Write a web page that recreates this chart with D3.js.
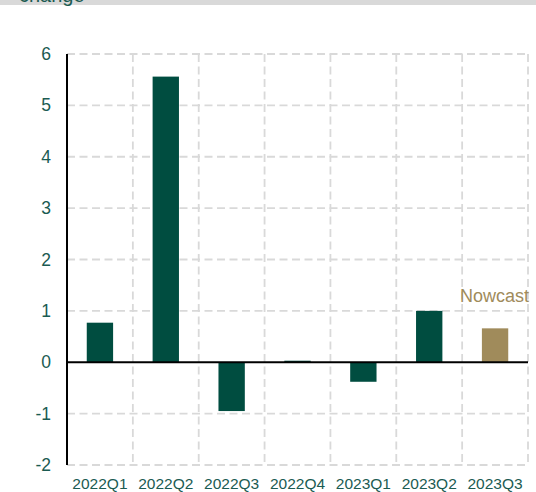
<!DOCTYPE html>
<html>
<head>
<meta charset="utf-8">
<script src="https://cdn.jsdelivr.net/npm/d3@7/dist/d3.min.js"></script>
<style>
  html, body { margin: 0; padding: 0; background: #ffffff; }
  svg { display: block; font-family: Arial, "Liberation Sans", sans-serif; }
</style>
</head>
<body>
<svg id="chart" width="536" height="492"></svg>
<script>
// Quarterly GDP change, with the latest quarter as a nowcast
const quarters = ["2022Q1", "2022Q2", "2022Q3", "2022Q4", "2023Q1", "2023Q2", "2023Q3"];
const values   = [0.77, 5.56, -0.95, 0.03, -0.38, 1.0, 0.66];
const isNowcast = [false, false, false, false, false, false, true];
const yTicks   = [-2, -1, 0, 1, 2, 3, 4, 5, 6];
const nowcastLabel = "Nowcast";
const titleFragment = "change";

const colors = { actual: "#004d40", nowcast: "#a08b5b", text: "#1b5b52", grid: "#d9d9d9" };

const svg = d3.select("#chart");
const margin = { left: 67, right: 8, top: 54, bottom: 27 };
const W = 536, H = 492;

const x = d3.scaleBand().domain(quarters).range([margin.left, W - margin.right]).paddingInner(0).paddingOuter(0);
const y = d3.scaleLinear().domain([-2, 6]).range([H - margin.bottom, margin.top]);

// grey title band at the top (title runs above the visible area)
svg.append("rect").attr("x", 0).attr("y", 0).attr("width", W).attr("height", 5).attr("fill", "#d9d9d9");
svg.append("text").attr("x", 19).attr("y", 2).attr("fill", colors.text)
  .attr("font-size", 20).text(titleFragment);

// horizontal dashed grid
svg.append("g").selectAll("line").data(yTicks.filter(t => t !== 0)).join("line")
  .attr("x1", margin.left).attr("x2", W - margin.right)
  .attr("y1", d => y(d)).attr("y2", d => y(d))
  .attr("stroke", colors.grid).attr("stroke-width", 1.8).attr("stroke-dasharray", "8,4.5");

// vertical dashed grid at category boundaries
const bounds = quarters.map(q => x(q) + x.bandwidth());
svg.append("g").selectAll("line").data(bounds).join("line")
  .attr("x1", d => d).attr("x2", d => d)
  .attr("y1", y(6)).attr("y2", y(-2))
  .attr("stroke", colors.grid).attr("stroke-width", 1.8).attr("stroke-dasharray", "8,4.5");

// bars
const barW = x.bandwidth() * 0.4;
svg.append("g").selectAll("rect").data(quarters).join("rect")
  .attr("x", (d) => x(d) + (x.bandwidth() - barW) / 2)
  .attr("width", barW)
  .attr("y", (d, i) => y(Math.max(0, values[i])))
  .attr("height", (d, i) => Math.abs(y(values[i]) - y(0)))
  .attr("fill", (d, i) => isNowcast[i] ? colors.nowcast : colors.actual);

// zero line and left axis
svg.append("line").attr("x1", margin.left).attr("x2", W - margin.right)
  .attr("y1", y(0)).attr("y2", y(0)).attr("stroke", "#000").attr("stroke-width", 2);
svg.append("line").attr("x1", margin.left).attr("x2", margin.left)
  .attr("y1", y(6)).attr("y2", y(-2)).attr("stroke", "#000").attr("stroke-width", 2);

// y tick labels (plain hyphen for negatives)
const yAxis = d3.axisLeft(y).tickValues(yTicks).tickSize(0).tickPadding(16).tickFormat(d => String(d));
const ya = svg.append("g").attr("transform", `translate(${margin.left},0)`).call(yAxis);
ya.select(".domain").remove();
ya.selectAll("text").attr("fill", colors.text).attr("font-size", 17.5)
  .attr("font-family", "Arial, 'Liberation Sans', sans-serif");

// x tick labels
const xAxis = d3.axisBottom(x).tickSize(0).tickPadding(0);
const xa = svg.append("g").attr("transform", `translate(0,${y(-2)})`).call(xAxis);
xa.select(".domain").remove();
xa.selectAll("text").attr("fill", colors.text).attr("font-size", 15.5)
  .attr("dy", null).attr("y", 24)
  .attr("font-family", "Arial, 'Liberation Sans', sans-serif");

// nowcast label
const lastQ = quarters[quarters.length - 1];
svg.append("text")
  .attr("x", x(lastQ) + x.bandwidth() + 1)
  .attr("y", y(values[values.length - 1]) - 26)
  .attr("text-anchor", "end").attr("fill", colors.nowcast).attr("font-size", 18)
  .text(nowcastLabel);
</script>
</body>
</html>
